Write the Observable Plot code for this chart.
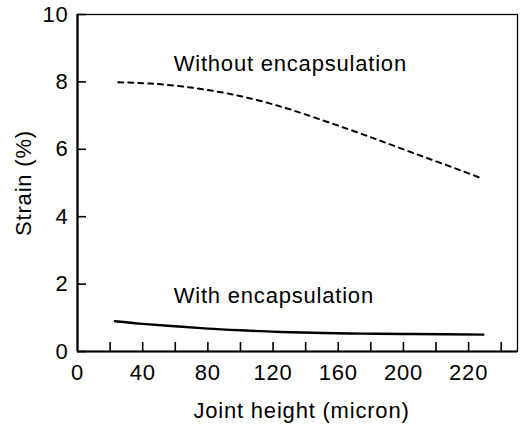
<!DOCTYPE html>
<html>
<head>
<meta charset="utf-8">
<script src="https://cdn.jsdelivr.net/npm/d3@7"></script>
<script src="https://cdn.jsdelivr.net/npm/@observablehq/plot@0.6"></script>
<style>
  html, body { margin: 0; padding: 0; background: #fff; }
  svg text { letter-spacing: 0.8px; }
</style>
</head>
<body>
<div id="chart"></div>
<script>
// Joint height (micron) positions
const withoutX = [25, 45, 65, 86, 106, 126, 145, 166, 186, 206, 227, 249];
const withoutY = [7.99, 7.95, 7.86, 7.71, 7.51, 7.25, 6.95, 6.60, 6.25, 5.89, 5.52, 5.12];
const withX = [23, 40, 60, 80, 100, 125, 150, 175, 200, 225, 249];
const withY = [0.90, 0.82, 0.75, 0.68, 0.63, 0.58, 0.55, 0.53, 0.52, 0.51, 0.50];

// Axis ticks and labels (last label printed as "220" in the original)
const xLabelTicks = [0, 40, 80, 120, 160, 200, 240];
const xTickLabels = ["0", "40", "80", "120", "160", "200", "220"];
const xMinorTicks = [20, 40, 60, 80, 100, 120, 140, 160, 180, 200, 220, 240, 260];
const yTicks = [0, 2, 4, 6, 8, 10];

const seriesNames = ["Without encapsulation", "With encapsulation"];
const labelPos = [{x: 59, y: 8.52}, {x: 59, y: 1.64}];

const withoutData = withoutX.map((x, i) => ({x, y: withoutY[i]}));
const withData = withX.map((x, i) => ({x, y: withY[i]}));
const labels = seriesNames.map((t, i) => ({text: t, ...labelPos[i]}));

const W = 521, H = 427;
const mL = 77, mR = 4, mT = 14, mB = 76;
const frameW = W - mL - mR, frameH = H - mT - mB;
const tickLen = 9;

const chart = Plot.plot({
  width: W,
  height: H,
  marginLeft: mL,
  marginRight: mR,
  marginTop: mT,
  marginBottom: mB,
  style: {fontFamily: "'Liberation Sans', Arial, Helvetica, sans-serif", fontSize: "22px", color: "#000", background: "#fff"},
  x: {domain: [0, 270]},
  y: {domain: [0, 10]},
  marks: [
    Plot.frame({stroke: "#000", strokeWidth: 1.3}),
    Plot.axisX({ticks: xLabelTicks, tickFormat: d => xTickLabels[xLabelTicks.indexOf(d)], tickSize: 0, tickPadding: 13, fontSize: 22, label: null}),
    Plot.axisY({ticks: yTicks, tickSize: 0, tickPadding: 9, fontSize: 22, label: null}),
    Plot.tickX(xMinorTicks, {x: d => d, insetTop: frameH - tickLen, stroke: "#000", strokeWidth: 1.6}),
    Plot.tickY(yTicks, {y: d => d, insetRight: frameW - tickLen, stroke: "#000", strokeWidth: 1.6}),
    Plot.ruleX([0], {stroke: "#000", strokeWidth: 2.2}),
    Plot.ruleY([0], {stroke: "#000", strokeWidth: 2}),
    Plot.line(withoutData, {x: "x", y: "y", curve: "natural", stroke: "#000", strokeWidth: 2, strokeDasharray: "5,5"}),
    Plot.line(withData, {x: "x", y: "y", curve: "natural", stroke: "#000", strokeWidth: 2.4}),
    Plot.text(labels, {x: "x", y: "y", text: "text", textAnchor: "start", fontSize: 22, fill: "#000"}),
    Plot.text(["Joint height (micron)"], {frameAnchor: "bottom", textAnchor: "middle", lineAnchor: "middle", dx: 4, dy: 59, fontSize: 22, fill: "#000"}),
    Plot.text(["Strain (%)"], {frameAnchor: "left", textAnchor: "middle", lineAnchor: "middle", rotate: -90, dx: -54, dy: 0, fontSize: 22, fill: "#000"})
  ]
});
document.getElementById("chart").appendChild(chart);
</script>
</body>
</html>
